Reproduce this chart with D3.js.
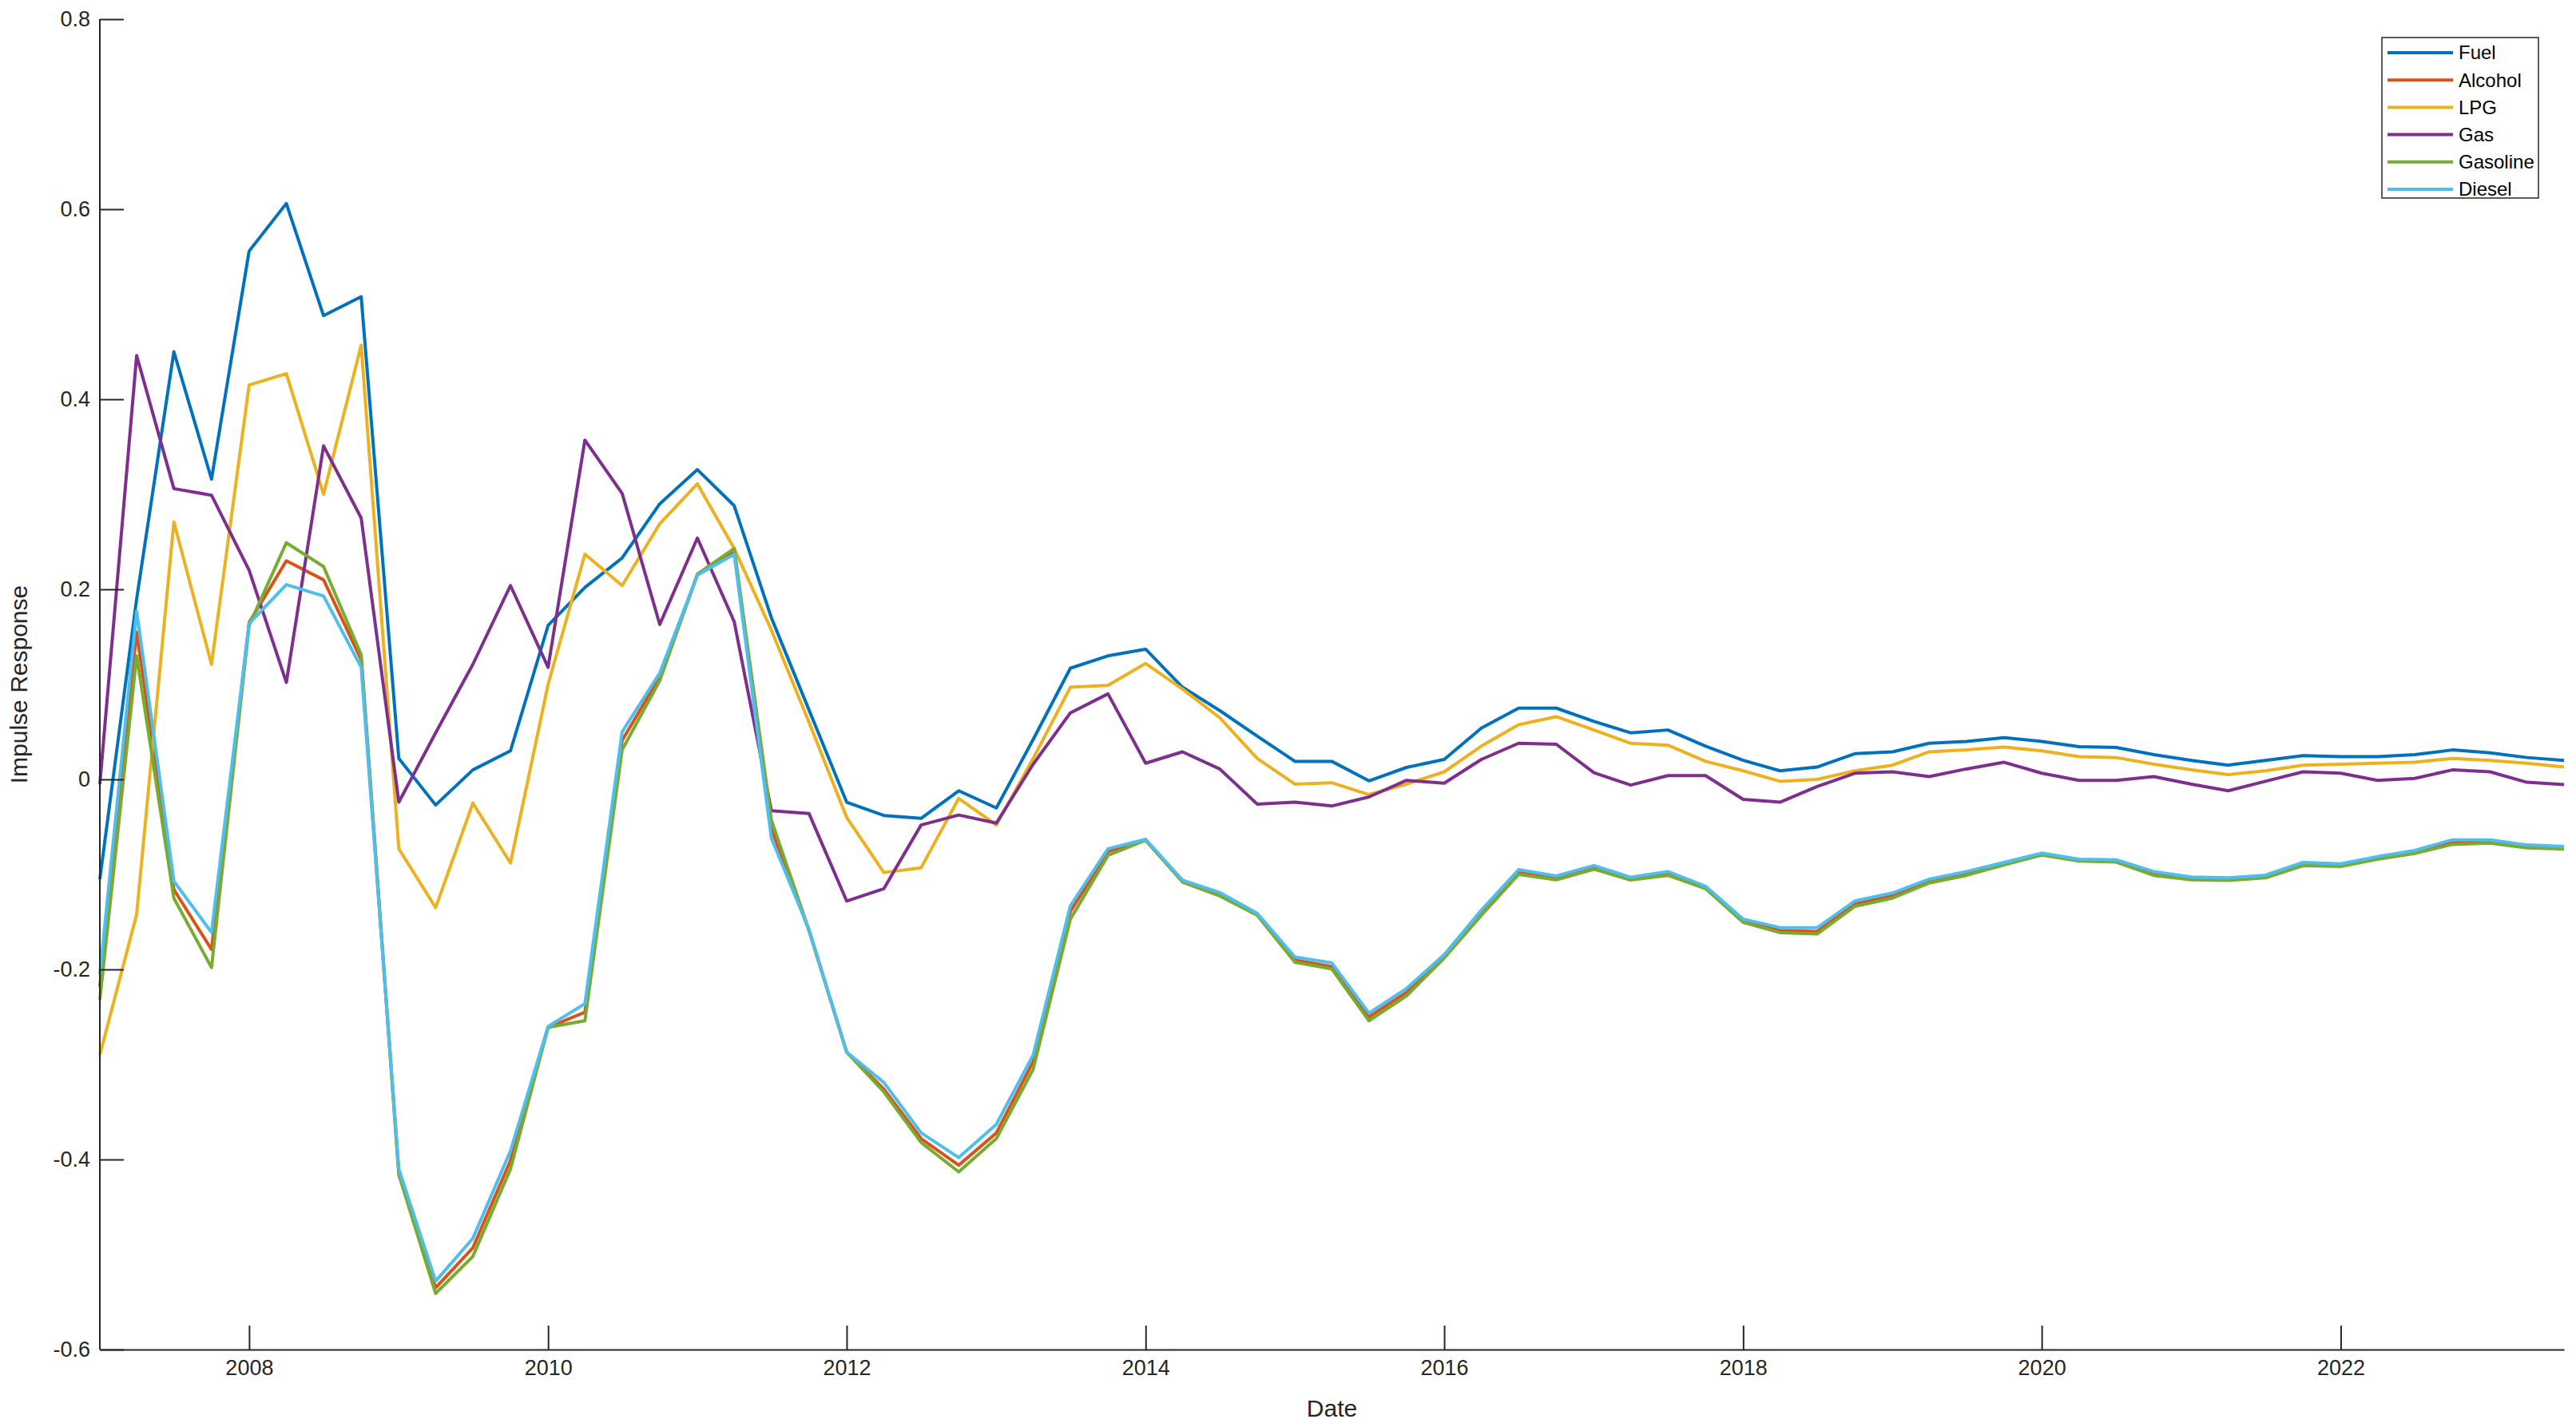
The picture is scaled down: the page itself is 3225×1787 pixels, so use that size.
<!DOCTYPE html>
<html>
<head>
<meta charset="utf-8">
<script src="https://cdn.jsdelivr.net/npm/d3@7"></script>
<style>
  html, body { margin: 0; padding: 0; background: #ffffff; }
  svg { display: block; font-family: "Liberation Sans", Arial, Helvetica, sans-serif; }
</style>
</head>
<body>
<svg id="chart" width="3225" height="1787"></svg>
<script>
// ---------------- DATA ----------------
const dates = [
 "2007-01-01","2007-04-01","2007-07-01","2007-10-01",
 "2008-01-01","2008-04-01","2008-07-01","2008-10-01",
 "2009-01-01","2009-04-01","2009-07-01","2009-10-01",
 "2010-01-01","2010-04-01","2010-07-01","2010-10-01",
 "2011-01-01","2011-04-01","2011-07-01","2011-10-01",
 "2012-01-01","2012-04-01","2012-07-01","2012-10-01",
 "2013-01-01","2013-04-01","2013-07-01","2013-10-01",
 "2014-01-01","2014-04-01","2014-07-01","2014-10-01",
 "2015-01-01","2015-04-01","2015-07-01","2015-10-01",
 "2016-01-01","2016-04-01","2016-07-01","2016-10-01",
 "2017-01-01","2017-04-01","2017-07-01","2017-10-01",
 "2018-01-01","2018-04-01","2018-07-01","2018-10-01",
 "2019-01-01","2019-04-01","2019-07-01","2019-10-01",
 "2020-01-01","2020-04-01","2020-07-01","2020-10-01",
 "2021-01-01","2021-04-01","2021-07-01","2021-10-01",
 "2022-01-01","2022-04-01","2022-07-01","2022-10-01",
 "2023-01-01","2023-04-01","2023-07-01"
];

const seriesNames = ["Fuel", "Alcohol", "LPG", "Gas", "Gasoline", "Diesel"];

const fuel = [-0.105,0.19,0.450,0.316,0.556,0.606,0.488,0.508,0.022,-0.027,0.010,0.030,
 0.162,0.202,0.233,0.290,0.326,0.288,0.170,0.073,-0.024,-0.038,-0.041,-0.012,
 -0.030,0.042,0.117,0.130,0.137,0.097,0.0725,0.0455,0.019,0.019,-0.0015,0.0126,
 0.021,0.054,0.075,0.075,0.061,0.049,0.052,0.035,0.020,0.009,0.013,0.027,
 0.029,0.038,0.040,0.044,0.040,0.0345,0.0336,0.026,0.020,0.015,0.020,0.025,
 0.024,0.024,0.026,0.031,0.028,0.023,0.020];

const alcohol = [-0.218,0.155,-0.116,-0.179,0.165,0.230,0.210,0.126,-0.414,-0.535,-0.493,-0.401,
 -0.261,-0.245,0.041,0.108,0.215,0.240,-0.052,-0.159,-0.287,-0.326,-0.378,-0.406,
 -0.372,-0.297,-0.139,-0.076,-0.064,-0.107,-0.121,-0.142,-0.190,-0.197,-0.250,-0.224,
 -0.186,-0.140,-0.098,-0.104,-0.093,-0.105,-0.099,-0.114,-0.149,-0.159,-0.160,-0.131,
 -0.122,-0.107,-0.099,-0.089,-0.079,-0.085,-0.086,-0.099,-0.104,-0.105,-0.102,-0.089,
 -0.090,-0.083,-0.076,-0.066,-0.065,-0.0705,-0.072];

const lpg = [-0.290,-0.142,0.271,0.121,0.415,0.427,0.300,0.457,-0.073,-0.135,-0.025,-0.088,
 0.100,0.237,0.204,0.269,0.311,0.243,0.157,0.060,-0.040,-0.098,-0.093,-0.020,
 -0.048,0.022,0.097,0.099,0.122,0.095,0.065,0.022,-0.005,-0.0035,-0.016,-0.005,
 0.008,0.035,0.0575,0.066,0.052,0.038,0.036,0.019,0.009,-0.002,0.000,0.009,
 0.015,0.029,0.031,0.034,0.030,0.024,0.023,0.016,0.010,0.005,0.009,0.015,
 0.016,0.017,0.018,0.022,0.020,0.017,0.013];

const gas = [-0.005,0.446,0.306,0.299,0.220,0.102,0.351,0.275,-0.024,0.049,0.121,0.204,
 0.118,0.357,0.301,0.163,0.254,0.166,-0.033,-0.036,-0.128,-0.115,-0.048,-0.0375,
 -0.046,0.016,0.070,0.090,0.017,0.029,0.011,-0.026,-0.024,-0.028,-0.0185,-0.001,
 -0.004,0.021,0.038,0.037,0.007,-0.006,0.004,0.004,-0.021,-0.024,-0.0075,0.0065,
 0.008,0.003,0.011,0.018,0.0065,-0.001,-0.001,0.003,-0.005,-0.012,-0.002,0.008,
 0.0065,-0.001,0.001,0.010,0.008,-0.003,-0.0055];

const gasoline = [-0.232,0.130,-0.125,-0.198,0.162,0.249,0.224,0.131,-0.416,-0.541,-0.502,-0.410,
 -0.261,-0.254,0.031,0.104,0.216,0.243,-0.043,-0.159,-0.287,-0.329,-0.382,-0.413,
 -0.378,-0.305,-0.147,-0.080,-0.064,-0.108,-0.1226,-0.143,-0.1925,-0.1995,-0.254,-0.2277,
 -0.188,-0.143,-0.100,-0.1057,-0.0945,-0.106,-0.101,-0.115,-0.1505,-0.1613,-0.1627,-0.1336,
 -0.125,-0.109,-0.101,-0.090,-0.0796,-0.086,-0.087,-0.101,-0.1056,-0.1064,-0.1036,-0.0908,
 -0.0916,-0.084,-0.078,-0.0684,-0.067,-0.072,-0.0734];

const diesel = [-0.205,0.177,-0.107,-0.161,0.164,0.205,0.193,0.118,-0.410,-0.528,-0.483,-0.391,
 -0.260,-0.236,0.050,0.112,0.215,0.237,-0.062,-0.158,-0.287,-0.319,-0.372,-0.398,
 -0.363,-0.290,-0.133,-0.073,-0.063,-0.106,-0.119,-0.141,-0.187,-0.193,-0.246,-0.220,
 -0.1845,-0.1375,-0.095,-0.1017,-0.0907,-0.103,-0.097,-0.1124,-0.147,-0.156,-0.156,-0.128,
 -0.1196,-0.105,-0.097,-0.0874,-0.0776,-0.084,-0.0846,-0.097,-0.1028,-0.1036,-0.1008,-0.0874,
 -0.0888,-0.0812,-0.0748,-0.0636,-0.0636,-0.069,-0.0706];

const xTickLabels = ["2008","2010","2012","2014","2016","2018","2020","2022"];
const yTickValues = [-0.6,-0.4,-0.2,0,0.2,0.4,0.6,0.8];
const yTickLabels = ["-0.6","-0.4","-0.2","0","0.2","0.4","0.6","0.8"];

const xTitle = "Date";
const yTitle = "Impulse Response";

// ---------------- STYLE / LAYOUT ----------------
const colors = ["#0072BD", "#D95319", "#EDB120", "#7E2F8E", "#77AC30", "#4DBEEE"];
const axisColor = "#262626";
const plot = { left: 125, right: 3210, top: 24, bottom: 1690 };

const parse = d3.utcParse("%Y-%m-%d");
const xDates = dates.map(parse);
const values = [fuel, alcohol, lpg, gas, gasoline, diesel];

const svg = d3.select("#chart");

const x = d3.scaleUtc()
  .domain([xDates[0], xDates[xDates.length - 1]])
  .range([plot.left, plot.right]);

const y = d3.scaleLinear()
  .domain([-0.6, 0.8])
  .range([plot.bottom, plot.top]);

// ---------------- LINES ----------------
const line = d3.line()
  .x(d => x(d[0]))
  .y(d => y(d[1]));

const gLines = svg.append("g");
values.forEach((vals, k) => {
  const pts = xDates.map((dt, i) => [dt, vals[i]]);
  gLines.append("path")
    .attr("d", line(pts))
    .attr("fill", "none")
    .attr("stroke", colors[k])
    .attr("stroke-width", 4)
    .attr("stroke-linejoin", "round")
    .attr("stroke-linecap", "butt");
});

// ---------------- AXES ----------------
const tickLen = 30;
const xTickDates = xTickLabels.map(s => parse(s + "-01-01"));

const xAxis = d3.axisBottom(x)
  .tickValues(xTickDates)
  .tickFormat((d, i) => xTickLabels[i])
  .tickSizeInner(-tickLen)
  .tickSizeOuter(0)
  .tickPadding(tickLen + 10);

const gx = svg.append("g")
  .attr("transform", `translate(0,${plot.bottom})`)
  .call(xAxis);

const yAxis = d3.axisLeft(y)
  .tickValues(yTickValues)
  .tickFormat((d, i) => yTickLabels[i])
  .tickSizeInner(-tickLen)
  .tickSizeOuter(0)
  .tickPadding(12);

const gy = svg.append("g")
  .attr("transform", `translate(${plot.left},0)`)
  .call(yAxis);

[gx, gy].forEach(g => {
  g.select(".domain").attr("stroke", axisColor).attr("stroke-width", 2);
  g.selectAll(".tick line").attr("stroke", axisColor).attr("stroke-width", 2);
  g.selectAll(".tick text")
    .attr("fill", axisColor)
    .style("font-size", "27px")
    .style("font-family", "'Liberation Sans', Arial, Helvetica, sans-serif");
});
gy.select(".domain").attr("d", `M0,${plot.bottom}V${plot.top}`);
gx.selectAll(".tick text").attr("dy", "0.71em").attr("y", 13);

// axis titles
svg.append("text")
  .attr("x", (plot.left + plot.right) / 2)
  .attr("y", 1774)
  .attr("text-anchor", "middle")
  .attr("fill", axisColor)
  .style("font-size", "30px")
  .text(xTitle);

svg.append("text")
  .attr("transform", `translate(34,${(plot.top + plot.bottom) / 2}) rotate(-90)`)
  .attr("text-anchor", "middle")
  .attr("fill", axisColor)
  .style("font-size", "30px")
  .text(yTitle);

// ---------------- LEGEND ----------------
const legend = svg.append("g");
const lg = { x: 2982, y: 47, w: 196, h: 201, row0: 66, step: 34.2, lx0: 2989, lx1: 3071, tx: 3078 };
legend.append("rect")
  .attr("x", lg.x).attr("y", lg.y)
  .attr("width", lg.w).attr("height", lg.h)
  .attr("fill", "#ffffff")
  .attr("stroke", axisColor)
  .attr("stroke-width", 1.5);

seriesNames.forEach((name, k) => {
  const yy = lg.row0 + k * lg.step;
  legend.append("line")
    .attr("x1", lg.lx0).attr("x2", lg.lx1)
    .attr("y1", yy).attr("y2", yy)
    .attr("stroke", colors[k])
    .attr("stroke-width", 4);
  legend.append("text")
    .attr("x", lg.tx).attr("y", yy)
    .attr("dy", "0.35em")
    .attr("fill", "#000000")
    .style("font-size", "24px")
    .text(name);
});
</script>
</body>
</html>
